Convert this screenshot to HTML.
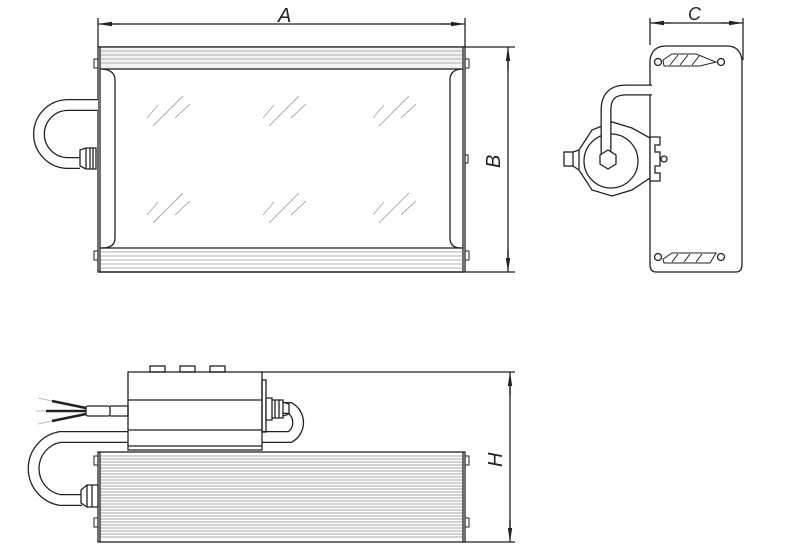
<!DOCTYPE html>
<html><head><meta charset="utf-8"><style>html,body{margin:0;padding:0;background:#fff}svg{display:block}</style></head><body>
<svg width="800" height="557" viewBox="0 0 800 557" xmlns="http://www.w3.org/2000/svg" fill="none" stroke="#222" stroke-width="1.3">
<defs>
<marker id="ar" markerWidth="14" markerHeight="6" refX="14" refY="3" orient="auto" markerUnits="userSpaceOnUse"><path d="M0,0.8 L14,3 L0,5.2 Z" fill="#222" stroke="none"/></marker>
</defs>
<!-- ===== TOP VIEW ===== -->
<line x1="98" y1="18" x2="98" y2="47"/><line x1="465" y1="18" x2="465" y2="47"/>
<line x1="120" y1="24" x2="98" y2="24" marker-end="url(#ar)"/><line x1="440" y1="24" x2="465" y2="24" marker-end="url(#ar)"/>
<line x1="110" y1="24" x2="455" y2="24"/>
<text x="278" y="22" font-family="Liberation Sans,sans-serif" font-style="italic" font-size="20" fill="#222" stroke="none">A</text>
<line x1="465" y1="47" x2="515" y2="47"/><line x1="465" y1="272" x2="515" y2="272"/>
<line x1="508" y1="70" x2="508" y2="47" marker-end="url(#ar)"/><line x1="508" y1="250" x2="508" y2="272" marker-end="url(#ar)"/>
<line x1="508" y1="60" x2="508" y2="260"/>
<text x="0" y="0" transform="translate(500,168) rotate(-90)" font-family="Liberation Sans,sans-serif" font-style="italic" font-size="20" fill="#222" stroke="none">B</text>
<!-- frame -->
<rect x="98" y="47" width="367" height="225"/>
<rect x="100" y="47" width="363" height="22" fill="#f2f2f2"/>
<g stroke="#999" stroke-width="0.7"><line x1="101" y1="51" x2="462" y2="51"/><line x1="101" y1="55" x2="462" y2="55"/><line x1="101" y1="59" x2="462" y2="59"/><line x1="101" y1="63" x2="462" y2="63"/><line x1="101" y1="252" x2="462" y2="252"/><line x1="101" y1="256" x2="462" y2="256"/><line x1="101" y1="260" x2="462" y2="260"/><line x1="101" y1="264" x2="462" y2="264"/><line x1="101" y1="268" x2="462" y2="268"/></g>
<rect x="100" y="248" width="363" height="24"/>
<path d="M100,69 L100,248 M463,69 L463,248"/>
<path d="M102,69 Q115,70 115,80 L115,238 Q115,248 102,248"/>
<path d="M461,69 Q450,70 450,80 L450,238 Q450,248 461,248"/>
<g stroke-width="1"><rect x="94" y="59" width="4" height="9"/><rect x="94" y="251" width="4" height="9"/><rect x="465" y="59" width="4" height="9"/><rect x="465" y="251" width="4" height="9"/><rect x="465" y="155" width="3" height="8"/></g>
<g stroke="#aaa" stroke-width="0.9">
<path d="M147,118 L158,105 M153,126 L183,96 M175,118 L190,104"/>
<path d="M147,215 L158,202 M153,223 L183,193 M175,215 L190,201"/>
<path d="M263,118 L274,105 M269,126 L299,96 M291,118 L306,104"/>
<path d="M263,215 L274,202 M269,223 L299,193 M291,215 L306,201"/>
<path d="M373,118 L384,105 M379,126 L409,96 M401,118 L416,104"/>
<path d="M373,215 L384,202 M379,223 L409,193 M401,215 L416,201"/>
</g>
<!-- cable top view -->
<path d="M98,105 L68,105 A29,29 0 0 0 68,163 L80,163" stroke="#222" stroke-width="12"/>
<path d="M98,105 L68,105 A29,29 0 0 0 68,163 L80,163" stroke="#fff" stroke-width="9.4"/>
<path d="M80,150 L86,148 L96,148 L96,169 L86,169 L80,166 Z" fill="#fff"/>
<path d="M86,148 L86,169 M90,148 L90,169 M93,148 L93,169"/>
<!-- ===== SIDE END VIEW ===== -->
<line x1="650" y1="18" x2="650" y2="45"/><line x1="743" y1="18" x2="743" y2="60"/>
<line x1="670" y1="23" x2="650" y2="23" marker-end="url(#ar)"/><line x1="722" y1="23" x2="743" y2="23" marker-end="url(#ar)"/>
<line x1="660" y1="23" x2="733" y2="23"/>
<text x="688" y="20" font-family="Liberation Sans,sans-serif" font-style="italic" font-size="18" fill="#222" stroke="none">C</text>
<path d="M656,272 L736,272 Q742,272 742,264 L742,60 Q740,46 727,46 L666,46 Q652,46 650,60 L650,264 Q650,272 656,272 Z"/>
<circle cx="658" cy="62" r="3.5"/><circle cx="721" cy="62" r="3.5"/><circle cx="658" cy="257" r="3.5"/><circle cx="721" cy="257" r="3.5"/>
<path d="M663,60 L672,54 L696,54 L716,62 L700,66 L664,66 Z" stroke-width="1"/>
<path d="M670,65 L678,55 M680,65 L688,55 M692,65 L700,55" stroke-width="1"/>
<path d="M663,259 L672,253 L716,253 L710,263 L664,263 Z" stroke-width="1"/>
<path d="M672,262 L678,254 M684,262 L690,254 M696,262 L702,254" stroke-width="1"/>
<!-- clamp -->
<path d="M579,150 L592,130 L612,122 L632,128 L650,138 L650,178 L632,190 L612,196 L592,190 L579,170 Z" fill="#fff"/>
<rect x="564" y="152" width="9" height="14"/>
<path d="M573,152 L579,150 M573,166 L579,170"/>
<circle cx="611" cy="161" r="27" fill="#fff"/>
<path d="M606,162 L606,110 Q606,90 626,90 L652,90" stroke="#222" stroke-width="11"/>
<path d="M606,162 L606,110 Q606,90 626,90 L652,90" stroke="#fff" stroke-width="8.4"/>
<path d="M600,155 L608,150 L616,155 L616,164 L608,169 L600,164 Z" fill="#fff"/>
<path d="M650,137 L660,137 L660,145 L655,145 L655,152 L660,152 L660,166 L655,166 L655,173 L660,173 L660,181 L650,181 Z" fill="#fff"/>
<circle cx="664" cy="159" r="3"/>
<!-- ===== FRONT VIEW BOTTOM ===== -->
<line x1="262" y1="372" x2="515" y2="372"/><line x1="465" y1="542" x2="515" y2="542"/>
<line x1="510" y1="395" x2="510" y2="372" marker-end="url(#ar)"/><line x1="510" y1="520" x2="510" y2="542" marker-end="url(#ar)"/>
<line x1="510" y1="385" x2="510" y2="530"/>
<text x="0" y="0" transform="translate(502,467) rotate(-90)" font-family="Liberation Sans,sans-serif" font-style="italic" font-size="20" fill="#222" stroke="none">H</text>
<!-- cable loop behind -->
<path d="M266,408 L290,408 A17,17 0 0 1 290,437 L60,437 A32,32 0 0 0 60,500 L82,500" stroke="#222" stroke-width="12"/>
<path d="M266,408 L290,408 A17,17 0 0 1 290,437 L60,437 A32,32 0 0 0 60,500 L82,500" stroke="#fff" stroke-width="9.4"/>
<!-- top box -->
<rect x="128" y="372" width="134" height="78" fill="#fff"/>
<line x1="128" y1="400" x2="262" y2="400"/><line x1="128" y1="430" x2="262" y2="430"/><line x1="128" y1="446" x2="262" y2="446"/>
<rect x="262" y="380" width="4" height="52"/>
<rect x="150" y="366" width="15" height="6"/><rect x="180" y="366" width="15" height="6"/><rect x="210" y="366" width="15" height="6"/>
<path d="M266,398 L272,398 L272,420 L266,420 Z M272,400 L283,400 L283,418 L272,418 Z" fill="#fff"/>
<path d="M275,400 L275,418 M279,400 L279,418 M283,402 L289,404 L289,414 L283,416"/>
<!-- wires -->
<path d="M110,406 L128,406 L128,416 L110,416"/>
<rect x="86" y="406" width="24" height="10" rx="2"/>
<path d="M86,408 L52,401 M86,411 L46,411 M86,414 L52,421" stroke-width="2.5"/>
<path d="M52,401 L38,398 M46,411 L36,411 M52,421 L38,424" stroke="#bbb" stroke-width="1"/>
<!-- body -->
<rect x="98" y="452" width="367" height="90" fill="#fff"/>
<g stroke="#888" stroke-width="0.7">
<line x1="100" y1="456" x2="463" y2="456"/><line x1="100" y1="459" x2="463" y2="459"/><line x1="100" y1="462" x2="463" y2="462"/><line x1="100" y1="465" x2="463" y2="465"/><line x1="100" y1="468" x2="463" y2="468"/><line x1="100" y1="471" x2="463" y2="471"/><line x1="100" y1="474" x2="463" y2="474"/><line x1="100" y1="477" x2="463" y2="477"/><line x1="100" y1="480" x2="463" y2="480"/><line x1="100" y1="483" x2="463" y2="483"/><line x1="100" y1="486" x2="463" y2="486"/><line x1="100" y1="489" x2="463" y2="489"/><line x1="100" y1="492" x2="463" y2="492"/><line x1="100" y1="495" x2="463" y2="495"/><line x1="100" y1="498" x2="463" y2="498"/><line x1="100" y1="501" x2="463" y2="501"/><line x1="100" y1="504" x2="463" y2="504"/><line x1="100" y1="507" x2="463" y2="507"/><line x1="100" y1="510" x2="463" y2="510"/><line x1="100" y1="513" x2="463" y2="513"/><line x1="100" y1="516" x2="463" y2="516"/><line x1="100" y1="519" x2="463" y2="519"/><line x1="100" y1="522" x2="463" y2="522"/><line x1="100" y1="525" x2="463" y2="525"/><line x1="100" y1="528" x2="463" y2="528"/><line x1="100" y1="531" x2="463" y2="531"/><line x1="100" y1="534" x2="463" y2="534"/><line x1="100" y1="537" x2="463" y2="537"/>
</g>
<path d="M100,452 L100,542 M463,452 L463,542"/>
<g stroke-width="1"><rect x="94" y="456" width="4" height="9"/><rect x="94" y="518" width="4" height="9"/><rect x="465" y="456" width="4" height="9"/><rect x="465" y="518" width="4" height="9"/></g>
<path d="M81,490 L87,485 L98,485 L98,507 L87,507 L81,503 Z" fill="#fff"/>
<path d="M87,485 L87,507 M92,485 L92,507"/>
</svg>
</body></html>
